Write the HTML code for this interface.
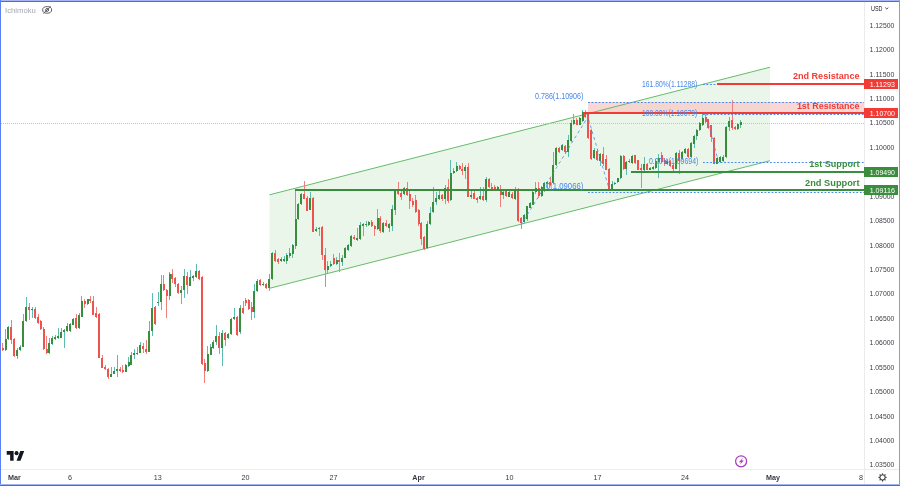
<!DOCTYPE html><html><head><meta charset="utf-8"><title>EURUSD chart</title><style>
html,body{margin:0;padding:0;background:#fff;width:900px;height:487px;overflow:hidden}
svg{display:block;position:absolute;left:0;top:0}
svg{will-change:transform}
text{font-family:"Liberation Sans",sans-serif}
</style></head><body>
<svg width="900" height="487" viewBox="0 0 900 487" shape-rendering="crispEdges">
<rect x="0" y="0" width="900" height="487" fill="#ffffff"/>
<polygon points="269.5,194.8 770.0,67.2 770.0,160.7 269.5,288.3" fill="#ebf6ea" shape-rendering="auto"/>
<rect x="588" y="102" width="276" height="11" fill="#f8c9c6" fill-opacity="0.75"/>
<line x1="269.5" y1="194.8" x2="770.0" y2="67.2" stroke="#66bb6a" stroke-width="1" shape-rendering="auto"/>
<line x1="269.5" y1="288.3" x2="770.0" y2="160.7" stroke="#66bb6a" stroke-width="1" shape-rendering="auto"/>
<line x1="1" y1="123.5" x2="864" y2="123.5" stroke="#b8cabb" stroke-width="1" stroke-dasharray="1,1"/>
<rect x="2" y="343" width="1" height="8" fill="#f07e7b"/>
<rect x="2" y="348" width="2" height="2" fill="#ef5350"/>
<rect x="5" y="329" width="1" height="22" fill="#5dbcb0"/>
<rect x="5" y="339" width="2" height="11" fill="#388e3c"/>
<rect x="8" y="326" width="1" height="14" fill="#5dbcb0"/>
<rect x="7" y="327" width="2" height="12" fill="#388e3c"/>
<rect x="11" y="320" width="1" height="24" fill="#f07e7b"/>
<rect x="10" y="327" width="2" height="13" fill="#ef5350"/>
<rect x="14" y="338" width="1" height="19" fill="#f07e7b"/>
<rect x="13" y="339" width="2" height="17" fill="#ef5350"/>
<rect x="17" y="348" width="1" height="11" fill="#5dbcb0"/>
<rect x="16" y="350" width="2" height="6" fill="#388e3c"/>
<rect x="20" y="345" width="1" height="6" fill="#5dbcb0"/>
<rect x="19" y="347" width="2" height="3" fill="#388e3c"/>
<rect x="23" y="314" width="1" height="33" fill="#5dbcb0"/>
<rect x="22" y="321" width="2" height="26" fill="#388e3c"/>
<rect x="26" y="297" width="1" height="25" fill="#5dbcb0"/>
<rect x="25" y="307" width="2" height="14" fill="#388e3c"/>
<rect x="29" y="303" width="1" height="17" fill="#f07e7b"/>
<rect x="28" y="307" width="2" height="3" fill="#ef5350"/>
<rect x="32" y="307" width="1" height="11" fill="#5dbcb0"/>
<rect x="31" y="309" width="2" height="1" fill="#388e3c"/>
<rect x="35" y="307" width="1" height="12" fill="#f07e7b"/>
<rect x="34" y="309" width="2" height="9" fill="#ef5350"/>
<rect x="38" y="314" width="1" height="10" fill="#f07e7b"/>
<rect x="37" y="317" width="2" height="6" fill="#ef5350"/>
<rect x="40" y="320" width="1" height="10" fill="#f07e7b"/>
<rect x="40" y="321" width="2" height="8" fill="#ef5350"/>
<rect x="43" y="327" width="1" height="23" fill="#f07e7b"/>
<rect x="43" y="329" width="2" height="20" fill="#ef5350"/>
<rect x="46" y="336" width="1" height="18" fill="#f07e7b"/>
<rect x="46" y="349" width="2" height="4" fill="#ef5350"/>
<rect x="49" y="338" width="1" height="16" fill="#5dbcb0"/>
<rect x="48" y="343" width="2" height="10" fill="#388e3c"/>
<rect x="52" y="336" width="1" height="9" fill="#5dbcb0"/>
<rect x="51" y="338" width="2" height="6" fill="#388e3c"/>
<rect x="55" y="335" width="1" height="5" fill="#5dbcb0"/>
<rect x="54" y="337" width="2" height="2" fill="#388e3c"/>
<rect x="58" y="328" width="1" height="11" fill="#5dbcb0"/>
<rect x="57" y="336" width="2" height="2" fill="#388e3c"/>
<rect x="61" y="328" width="1" height="10" fill="#5dbcb0"/>
<rect x="60" y="332" width="2" height="6" fill="#388e3c"/>
<rect x="64" y="329" width="1" height="19" fill="#5dbcb0"/>
<rect x="63" y="330" width="2" height="2" fill="#388e3c"/>
<rect x="67" y="323" width="1" height="9" fill="#5dbcb0"/>
<rect x="66" y="326" width="2" height="5" fill="#388e3c"/>
<rect x="70" y="323" width="1" height="9" fill="#5dbcb0"/>
<rect x="69" y="324" width="2" height="7" fill="#388e3c"/>
<rect x="73" y="318" width="1" height="7" fill="#5dbcb0"/>
<rect x="72" y="319" width="2" height="6" fill="#388e3c"/>
<rect x="76" y="314" width="1" height="15" fill="#f07e7b"/>
<rect x="75" y="318" width="2" height="10" fill="#ef5350"/>
<rect x="79" y="313" width="1" height="16" fill="#5dbcb0"/>
<rect x="78" y="315" width="2" height="13" fill="#388e3c"/>
<rect x="81" y="296" width="1" height="21" fill="#5dbcb0"/>
<rect x="81" y="301" width="2" height="16" fill="#388e3c"/>
<rect x="84" y="299" width="1" height="9" fill="#f07e7b"/>
<rect x="84" y="301" width="2" height="3" fill="#ef5350"/>
<rect x="87" y="299" width="1" height="6" fill="#5dbcb0"/>
<rect x="87" y="299" width="2" height="5" fill="#388e3c"/>
<rect x="90" y="296" width="1" height="7" fill="#f07e7b"/>
<rect x="89" y="299" width="2" height="2" fill="#ef5350"/>
<rect x="93" y="296" width="1" height="19" fill="#f07e7b"/>
<rect x="92" y="301" width="2" height="14" fill="#ef5350"/>
<rect x="96" y="307" width="1" height="11" fill="#f07e7b"/>
<rect x="95" y="313" width="2" height="4" fill="#ef5350"/>
<rect x="99" y="313" width="1" height="45" fill="#f07e7b"/>
<rect x="98" y="314" width="2" height="44" fill="#ef5350"/>
<rect x="102" y="355" width="1" height="13" fill="#f07e7b"/>
<rect x="101" y="358" width="2" height="10" fill="#ef5350"/>
<rect x="105" y="365" width="1" height="5" fill="#f07e7b"/>
<rect x="104" y="367" width="2" height="2" fill="#ef5350"/>
<rect x="108" y="368" width="1" height="11" fill="#f07e7b"/>
<rect x="107" y="369" width="2" height="8" fill="#ef5350"/>
<rect x="111" y="367" width="1" height="10" fill="#5dbcb0"/>
<rect x="110" y="374" width="2" height="3" fill="#388e3c"/>
<rect x="114" y="367" width="1" height="7" fill="#5dbcb0"/>
<rect x="113" y="371" width="2" height="3" fill="#388e3c"/>
<rect x="117" y="355" width="1" height="22" fill="#5dbcb0"/>
<rect x="116" y="369" width="2" height="2" fill="#388e3c"/>
<rect x="120" y="367" width="1" height="5" fill="#f07e7b"/>
<rect x="119" y="369" width="2" height="2" fill="#ef5350"/>
<rect x="122" y="365" width="1" height="8" fill="#f07e7b"/>
<rect x="122" y="370" width="2" height="2" fill="#ef5350"/>
<rect x="125" y="364" width="1" height="8" fill="#5dbcb0"/>
<rect x="125" y="365" width="2" height="7" fill="#388e3c"/>
<rect x="128" y="357" width="1" height="10" fill="#5dbcb0"/>
<rect x="128" y="362" width="2" height="4" fill="#388e3c"/>
<rect x="131" y="352" width="1" height="13" fill="#5dbcb0"/>
<rect x="130" y="355" width="2" height="10" fill="#388e3c"/>
<rect x="134" y="349" width="1" height="10" fill="#5dbcb0"/>
<rect x="133" y="353" width="2" height="2" fill="#388e3c"/>
<rect x="137" y="347" width="1" height="8" fill="#5dbcb0"/>
<rect x="136" y="353" width="2" height="1" fill="#388e3c"/>
<rect x="140" y="342" width="1" height="11" fill="#5dbcb0"/>
<rect x="139" y="345" width="2" height="8" fill="#388e3c"/>
<rect x="143" y="343" width="1" height="10" fill="#f07e7b"/>
<rect x="142" y="346" width="2" height="3" fill="#ef5350"/>
<rect x="146" y="340" width="1" height="14" fill="#f07e7b"/>
<rect x="145" y="349" width="2" height="3" fill="#ef5350"/>
<rect x="149" y="321" width="1" height="31" fill="#5dbcb0"/>
<rect x="148" y="331" width="2" height="21" fill="#388e3c"/>
<rect x="152" y="293" width="1" height="43" fill="#5dbcb0"/>
<rect x="151" y="308" width="2" height="23" fill="#388e3c"/>
<rect x="155" y="306" width="1" height="19" fill="#f07e7b"/>
<rect x="154" y="307" width="2" height="17" fill="#ef5350"/>
<rect x="158" y="292" width="1" height="14" fill="#5dbcb0"/>
<rect x="157" y="302" width="2" height="1" fill="#388e3c"/>
<rect x="161" y="275" width="1" height="35" fill="#5dbcb0"/>
<rect x="160" y="284" width="2" height="18" fill="#388e3c"/>
<rect x="163" y="275" width="1" height="16" fill="#f07e7b"/>
<rect x="163" y="284" width="2" height="6" fill="#ef5350"/>
<rect x="166" y="289" width="1" height="29" fill="#f07e7b"/>
<rect x="166" y="290" width="2" height="6" fill="#ef5350"/>
<rect x="169" y="272" width="1" height="28" fill="#5dbcb0"/>
<rect x="169" y="274" width="2" height="22" fill="#388e3c"/>
<rect x="172" y="269" width="1" height="14" fill="#f07e7b"/>
<rect x="171" y="274" width="2" height="5" fill="#ef5350"/>
<rect x="175" y="277" width="1" height="10" fill="#f07e7b"/>
<rect x="174" y="278" width="2" height="6" fill="#ef5350"/>
<rect x="178" y="283" width="1" height="11" fill="#f07e7b"/>
<rect x="177" y="284" width="2" height="9" fill="#ef5350"/>
<rect x="181" y="286" width="1" height="18" fill="#5dbcb0"/>
<rect x="180" y="290" width="2" height="3" fill="#388e3c"/>
<rect x="184" y="269" width="1" height="29" fill="#5dbcb0"/>
<rect x="183" y="276" width="2" height="14" fill="#388e3c"/>
<rect x="187" y="272" width="1" height="22" fill="#f07e7b"/>
<rect x="186" y="276" width="2" height="9" fill="#ef5350"/>
<rect x="190" y="270" width="1" height="16" fill="#5dbcb0"/>
<rect x="189" y="277" width="2" height="9" fill="#388e3c"/>
<rect x="193" y="275" width="1" height="6" fill="#5dbcb0"/>
<rect x="192" y="276" width="2" height="2" fill="#388e3c"/>
<rect x="196" y="264" width="1" height="14" fill="#5dbcb0"/>
<rect x="195" y="271" width="2" height="6" fill="#388e3c"/>
<rect x="199" y="270" width="1" height="10" fill="#f07e7b"/>
<rect x="198" y="271" width="2" height="8" fill="#ef5350"/>
<rect x="202" y="276" width="1" height="89" fill="#f07e7b"/>
<rect x="201" y="277" width="2" height="87" fill="#ef5350"/>
<rect x="204" y="359" width="1" height="24" fill="#f07e7b"/>
<rect x="204" y="363" width="2" height="8" fill="#ef5350"/>
<rect x="207" y="346" width="1" height="26" fill="#5dbcb0"/>
<rect x="207" y="354" width="2" height="17" fill="#388e3c"/>
<rect x="210" y="344" width="1" height="11" fill="#5dbcb0"/>
<rect x="210" y="347" width="2" height="8" fill="#388e3c"/>
<rect x="213" y="340" width="1" height="9" fill="#5dbcb0"/>
<rect x="212" y="342" width="2" height="6" fill="#388e3c"/>
<rect x="216" y="325" width="1" height="20" fill="#5dbcb0"/>
<rect x="215" y="336" width="2" height="6" fill="#388e3c"/>
<rect x="219" y="332" width="1" height="22" fill="#f07e7b"/>
<rect x="218" y="336" width="2" height="12" fill="#ef5350"/>
<rect x="222" y="330" width="1" height="36" fill="#5dbcb0"/>
<rect x="221" y="333" width="2" height="15" fill="#388e3c"/>
<rect x="225" y="332" width="1" height="14" fill="#f07e7b"/>
<rect x="224" y="333" width="2" height="7" fill="#ef5350"/>
<rect x="228" y="333" width="1" height="6" fill="#5dbcb0"/>
<rect x="227" y="334" width="2" height="4" fill="#388e3c"/>
<rect x="231" y="318" width="1" height="17" fill="#5dbcb0"/>
<rect x="230" y="319" width="2" height="15" fill="#388e3c"/>
<rect x="234" y="308" width="1" height="12" fill="#5dbcb0"/>
<rect x="233" y="317" width="2" height="2" fill="#388e3c"/>
<rect x="237" y="316" width="1" height="20" fill="#f07e7b"/>
<rect x="236" y="317" width="2" height="18" fill="#ef5350"/>
<rect x="240" y="305" width="1" height="29" fill="#5dbcb0"/>
<rect x="239" y="308" width="2" height="24" fill="#388e3c"/>
<rect x="243" y="301" width="1" height="13" fill="#f07e7b"/>
<rect x="242" y="308" width="2" height="5" fill="#ef5350"/>
<rect x="245" y="298" width="1" height="8" fill="#f07e7b"/>
<rect x="245" y="300" width="2" height="3" fill="#ef5350"/>
<rect x="248" y="299" width="1" height="11" fill="#f07e7b"/>
<rect x="248" y="300" width="2" height="9" fill="#ef5350"/>
<rect x="251" y="302" width="1" height="18" fill="#f07e7b"/>
<rect x="251" y="307" width="2" height="5" fill="#ef5350"/>
<rect x="254" y="284" width="1" height="34" fill="#5dbcb0"/>
<rect x="253" y="291" width="2" height="21" fill="#388e3c"/>
<rect x="257" y="279" width="1" height="13" fill="#5dbcb0"/>
<rect x="256" y="281" width="2" height="10" fill="#388e3c"/>
<rect x="260" y="279" width="1" height="7" fill="#f07e7b"/>
<rect x="259" y="280" width="2" height="5" fill="#ef5350"/>
<rect x="263" y="282" width="1" height="4" fill="#5dbcb0"/>
<rect x="262" y="284" width="2" height="1" fill="#388e3c"/>
<rect x="266" y="283" width="1" height="6" fill="#f07e7b"/>
<rect x="265" y="284" width="2" height="4" fill="#ef5350"/>
<rect x="269" y="274" width="1" height="17" fill="#5dbcb0"/>
<rect x="268" y="279" width="2" height="9" fill="#388e3c"/>
<rect x="272" y="252" width="1" height="28" fill="#5dbcb0"/>
<rect x="271" y="253" width="2" height="26" fill="#388e3c"/>
<rect x="275" y="250" width="1" height="12" fill="#f07e7b"/>
<rect x="274" y="253" width="2" height="8" fill="#ef5350"/>
<rect x="278" y="258" width="1" height="6" fill="#f07e7b"/>
<rect x="277" y="259" width="2" height="3" fill="#ef5350"/>
<rect x="281" y="257" width="1" height="5" fill="#5dbcb0"/>
<rect x="280" y="259" width="2" height="2" fill="#388e3c"/>
<rect x="284" y="256" width="1" height="6" fill="#5dbcb0"/>
<rect x="283" y="259" width="2" height="2" fill="#388e3c"/>
<rect x="286" y="253" width="1" height="11" fill="#5dbcb0"/>
<rect x="286" y="255" width="2" height="6" fill="#388e3c"/>
<rect x="289" y="248" width="1" height="10" fill="#5dbcb0"/>
<rect x="289" y="253" width="2" height="3" fill="#388e3c"/>
<rect x="292" y="244" width="1" height="14" fill="#5dbcb0"/>
<rect x="292" y="245" width="2" height="9" fill="#388e3c"/>
<rect x="295" y="190" width="1" height="59" fill="#5dbcb0"/>
<rect x="295" y="219" width="2" height="27" fill="#388e3c"/>
<rect x="298" y="203" width="1" height="17" fill="#5dbcb0"/>
<rect x="297" y="204" width="2" height="15" fill="#388e3c"/>
<rect x="301" y="193" width="1" height="12" fill="#5dbcb0"/>
<rect x="300" y="194" width="2" height="10" fill="#388e3c"/>
<rect x="304" y="181" width="1" height="18" fill="#f07e7b"/>
<rect x="303" y="194" width="2" height="5" fill="#ef5350"/>
<rect x="307" y="196" width="1" height="15" fill="#f07e7b"/>
<rect x="306" y="198" width="2" height="13" fill="#ef5350"/>
<rect x="310" y="192" width="1" height="18" fill="#5dbcb0"/>
<rect x="309" y="198" width="2" height="12" fill="#388e3c"/>
<rect x="313" y="197" width="1" height="35" fill="#f07e7b"/>
<rect x="312" y="198" width="2" height="34" fill="#ef5350"/>
<rect x="316" y="227" width="1" height="5" fill="#5dbcb0"/>
<rect x="315" y="229" width="2" height="2" fill="#388e3c"/>
<rect x="319" y="227" width="1" height="9" fill="#5dbcb0"/>
<rect x="318" y="228" width="2" height="1" fill="#388e3c"/>
<rect x="322" y="226" width="1" height="34" fill="#f07e7b"/>
<rect x="321" y="227" width="2" height="28" fill="#ef5350"/>
<rect x="325" y="248" width="1" height="39" fill="#f07e7b"/>
<rect x="324" y="255" width="2" height="15" fill="#ef5350"/>
<rect x="327" y="261" width="1" height="12" fill="#5dbcb0"/>
<rect x="327" y="266" width="2" height="4" fill="#388e3c"/>
<rect x="330" y="261" width="1" height="6" fill="#5dbcb0"/>
<rect x="330" y="264" width="2" height="2" fill="#388e3c"/>
<rect x="333" y="254" width="1" height="11" fill="#f07e7b"/>
<rect x="333" y="258" width="2" height="6" fill="#ef5350"/>
<rect x="336" y="257" width="1" height="8" fill="#5dbcb0"/>
<rect x="336" y="260" width="2" height="4" fill="#388e3c"/>
<rect x="339" y="253" width="1" height="19" fill="#f07e7b"/>
<rect x="338" y="260" width="2" height="2" fill="#ef5350"/>
<rect x="342" y="255" width="1" height="11" fill="#5dbcb0"/>
<rect x="341" y="258" width="2" height="4" fill="#388e3c"/>
<rect x="345" y="247" width="1" height="11" fill="#5dbcb0"/>
<rect x="344" y="248" width="2" height="10" fill="#388e3c"/>
<rect x="348" y="244" width="1" height="7" fill="#5dbcb0"/>
<rect x="347" y="245" width="2" height="5" fill="#388e3c"/>
<rect x="351" y="235" width="1" height="12" fill="#5dbcb0"/>
<rect x="350" y="236" width="2" height="10" fill="#388e3c"/>
<rect x="354" y="235" width="1" height="5" fill="#f07e7b"/>
<rect x="353" y="237" width="2" height="2" fill="#ef5350"/>
<rect x="357" y="228" width="1" height="13" fill="#5dbcb0"/>
<rect x="356" y="238" width="2" height="2" fill="#388e3c"/>
<rect x="360" y="222" width="1" height="18" fill="#5dbcb0"/>
<rect x="359" y="225" width="2" height="14" fill="#388e3c"/>
<rect x="363" y="223" width="1" height="13" fill="#5dbcb0"/>
<rect x="362" y="224" width="2" height="2" fill="#388e3c"/>
<rect x="366" y="221" width="1" height="6" fill="#5dbcb0"/>
<rect x="365" y="224" width="2" height="1" fill="#388e3c"/>
<rect x="368" y="221" width="1" height="5" fill="#5dbcb0"/>
<rect x="368" y="222" width="2" height="3" fill="#388e3c"/>
<rect x="371" y="220" width="1" height="7" fill="#f07e7b"/>
<rect x="371" y="222" width="2" height="4" fill="#ef5350"/>
<rect x="374" y="225" width="1" height="11" fill="#f07e7b"/>
<rect x="374" y="226" width="2" height="3" fill="#ef5350"/>
<rect x="377" y="209" width="1" height="21" fill="#5dbcb0"/>
<rect x="377" y="218" width="2" height="11" fill="#388e3c"/>
<rect x="380" y="216" width="1" height="17" fill="#f07e7b"/>
<rect x="379" y="218" width="2" height="13" fill="#ef5350"/>
<rect x="383" y="222" width="1" height="11" fill="#5dbcb0"/>
<rect x="382" y="223" width="2" height="9" fill="#388e3c"/>
<rect x="386" y="220" width="1" height="7" fill="#f07e7b"/>
<rect x="385" y="223" width="2" height="3" fill="#ef5350"/>
<rect x="389" y="223" width="1" height="9" fill="#5dbcb0"/>
<rect x="388" y="224" width="2" height="4" fill="#388e3c"/>
<rect x="392" y="205" width="1" height="26" fill="#5dbcb0"/>
<rect x="391" y="209" width="2" height="17" fill="#388e3c"/>
<rect x="395" y="190" width="1" height="25" fill="#5dbcb0"/>
<rect x="394" y="191" width="2" height="19" fill="#388e3c"/>
<rect x="398" y="182" width="1" height="13" fill="#f07e7b"/>
<rect x="397" y="191" width="2" height="3" fill="#ef5350"/>
<rect x="401" y="191" width="1" height="9" fill="#f07e7b"/>
<rect x="400" y="193" width="2" height="4" fill="#ef5350"/>
<rect x="404" y="187" width="1" height="8" fill="#5dbcb0"/>
<rect x="403" y="188" width="2" height="6" fill="#388e3c"/>
<rect x="407" y="182" width="1" height="14" fill="#f07e7b"/>
<rect x="406" y="188" width="2" height="7" fill="#ef5350"/>
<rect x="409" y="190" width="1" height="19" fill="#f07e7b"/>
<rect x="409" y="194" width="2" height="7" fill="#ef5350"/>
<rect x="412" y="198" width="1" height="9" fill="#f07e7b"/>
<rect x="412" y="201" width="2" height="4" fill="#ef5350"/>
<rect x="415" y="195" width="1" height="18" fill="#f07e7b"/>
<rect x="415" y="200" width="2" height="12" fill="#ef5350"/>
<rect x="418" y="209" width="1" height="17" fill="#f07e7b"/>
<rect x="418" y="210" width="2" height="14" fill="#ef5350"/>
<rect x="421" y="222" width="1" height="23" fill="#f07e7b"/>
<rect x="420" y="223" width="2" height="16" fill="#ef5350"/>
<rect x="424" y="236" width="1" height="14" fill="#f07e7b"/>
<rect x="423" y="237" width="2" height="12" fill="#ef5350"/>
<rect x="427" y="221" width="1" height="28" fill="#5dbcb0"/>
<rect x="426" y="224" width="2" height="24" fill="#388e3c"/>
<rect x="430" y="207" width="1" height="18" fill="#5dbcb0"/>
<rect x="429" y="213" width="2" height="11" fill="#388e3c"/>
<rect x="433" y="187" width="1" height="26" fill="#5dbcb0"/>
<rect x="432" y="202" width="2" height="10" fill="#388e3c"/>
<rect x="436" y="192" width="1" height="13" fill="#5dbcb0"/>
<rect x="435" y="198" width="2" height="4" fill="#388e3c"/>
<rect x="439" y="191" width="1" height="9" fill="#5dbcb0"/>
<rect x="438" y="195" width="2" height="4" fill="#388e3c"/>
<rect x="442" y="194" width="1" height="7" fill="#f07e7b"/>
<rect x="441" y="195" width="2" height="4" fill="#ef5350"/>
<rect x="445" y="185" width="1" height="19" fill="#5dbcb0"/>
<rect x="444" y="188" width="2" height="11" fill="#388e3c"/>
<rect x="448" y="179" width="1" height="24" fill="#f07e7b"/>
<rect x="447" y="187" width="2" height="14" fill="#ef5350"/>
<rect x="450" y="160" width="1" height="41" fill="#5dbcb0"/>
<rect x="450" y="173" width="2" height="27" fill="#388e3c"/>
<rect x="453" y="168" width="1" height="6" fill="#5dbcb0"/>
<rect x="453" y="171" width="2" height="2" fill="#388e3c"/>
<rect x="456" y="162" width="1" height="10" fill="#5dbcb0"/>
<rect x="456" y="166" width="2" height="5" fill="#388e3c"/>
<rect x="459" y="165" width="1" height="5" fill="#f07e7b"/>
<rect x="459" y="166" width="2" height="3" fill="#ef5350"/>
<rect x="462" y="163" width="1" height="12" fill="#f07e7b"/>
<rect x="461" y="169" width="2" height="2" fill="#ef5350"/>
<rect x="465" y="165" width="1" height="14" fill="#5dbcb0"/>
<rect x="464" y="167" width="2" height="4" fill="#388e3c"/>
<rect x="468" y="163" width="1" height="34" fill="#f07e7b"/>
<rect x="467" y="167" width="2" height="30" fill="#ef5350"/>
<rect x="471" y="191" width="1" height="8" fill="#5dbcb0"/>
<rect x="470" y="195" width="2" height="2" fill="#388e3c"/>
<rect x="474" y="190" width="1" height="9" fill="#f07e7b"/>
<rect x="473" y="193" width="2" height="6" fill="#ef5350"/>
<rect x="477" y="197" width="1" height="6" fill="#f07e7b"/>
<rect x="476" y="198" width="2" height="2" fill="#ef5350"/>
<rect x="480" y="187" width="1" height="13" fill="#5dbcb0"/>
<rect x="479" y="196" width="2" height="3" fill="#388e3c"/>
<rect x="483" y="187" width="1" height="14" fill="#f07e7b"/>
<rect x="482" y="196" width="2" height="4" fill="#ef5350"/>
<rect x="486" y="177" width="1" height="25" fill="#5dbcb0"/>
<rect x="485" y="179" width="2" height="21" fill="#388e3c"/>
<rect x="489" y="178" width="1" height="10" fill="#f07e7b"/>
<rect x="488" y="179" width="2" height="8" fill="#ef5350"/>
<rect x="491" y="183" width="1" height="6" fill="#f07e7b"/>
<rect x="491" y="187" width="2" height="2" fill="#ef5350"/>
<rect x="494" y="185" width="1" height="5" fill="#f07e7b"/>
<rect x="494" y="187" width="2" height="2" fill="#ef5350"/>
<rect x="497" y="186" width="1" height="4" fill="#5dbcb0"/>
<rect x="497" y="187" width="2" height="2" fill="#388e3c"/>
<rect x="500" y="185" width="1" height="22" fill="#f07e7b"/>
<rect x="500" y="189" width="2" height="6" fill="#ef5350"/>
<rect x="503" y="189" width="1" height="10" fill="#5dbcb0"/>
<rect x="502" y="192" width="2" height="3" fill="#388e3c"/>
<rect x="506" y="189" width="1" height="8" fill="#f07e7b"/>
<rect x="505" y="191" width="2" height="5" fill="#ef5350"/>
<rect x="509" y="189" width="1" height="8" fill="#5dbcb0"/>
<rect x="508" y="192" width="2" height="5" fill="#388e3c"/>
<rect x="512" y="192" width="1" height="7" fill="#f07e7b"/>
<rect x="511" y="194" width="2" height="4" fill="#ef5350"/>
<rect x="515" y="187" width="1" height="13" fill="#5dbcb0"/>
<rect x="514" y="190" width="2" height="9" fill="#388e3c"/>
<rect x="518" y="188" width="1" height="34" fill="#f07e7b"/>
<rect x="517" y="189" width="2" height="32" fill="#ef5350"/>
<rect x="521" y="217" width="1" height="12" fill="#f07e7b"/>
<rect x="520" y="218" width="2" height="5" fill="#ef5350"/>
<rect x="524" y="214" width="1" height="9" fill="#5dbcb0"/>
<rect x="523" y="215" width="2" height="7" fill="#388e3c"/>
<rect x="527" y="206" width="1" height="15" fill="#5dbcb0"/>
<rect x="526" y="206" width="2" height="13" fill="#388e3c"/>
<rect x="530" y="202" width="1" height="6" fill="#5dbcb0"/>
<rect x="529" y="203" width="2" height="5" fill="#388e3c"/>
<rect x="532" y="191" width="1" height="14" fill="#5dbcb0"/>
<rect x="532" y="192" width="2" height="13" fill="#388e3c"/>
<rect x="535" y="182" width="1" height="12" fill="#5dbcb0"/>
<rect x="535" y="188" width="2" height="4" fill="#388e3c"/>
<rect x="538" y="182" width="1" height="16" fill="#f07e7b"/>
<rect x="538" y="188" width="2" height="8" fill="#ef5350"/>
<rect x="541" y="186" width="1" height="11" fill="#5dbcb0"/>
<rect x="541" y="187" width="2" height="9" fill="#388e3c"/>
<rect x="544" y="182" width="1" height="10" fill="#5dbcb0"/>
<rect x="543" y="183" width="2" height="8" fill="#388e3c"/>
<rect x="547" y="181" width="1" height="7" fill="#5dbcb0"/>
<rect x="546" y="182" width="2" height="2" fill="#388e3c"/>
<rect x="550" y="178" width="1" height="8" fill="#f07e7b"/>
<rect x="549" y="182" width="2" height="3" fill="#ef5350"/>
<rect x="553" y="152" width="1" height="32" fill="#5dbcb0"/>
<rect x="552" y="165" width="2" height="18" fill="#388e3c"/>
<rect x="556" y="147" width="1" height="19" fill="#5dbcb0"/>
<rect x="555" y="148" width="2" height="17" fill="#388e3c"/>
<rect x="559" y="147" width="1" height="6" fill="#f07e7b"/>
<rect x="558" y="148" width="2" height="4" fill="#ef5350"/>
<rect x="562" y="144" width="1" height="7" fill="#5dbcb0"/>
<rect x="561" y="145" width="2" height="5" fill="#388e3c"/>
<rect x="565" y="145" width="1" height="9" fill="#f07e7b"/>
<rect x="564" y="146" width="2" height="6" fill="#ef5350"/>
<rect x="568" y="135" width="1" height="22" fill="#5dbcb0"/>
<rect x="567" y="140" width="2" height="12" fill="#388e3c"/>
<rect x="571" y="120" width="1" height="22" fill="#5dbcb0"/>
<rect x="570" y="123" width="2" height="18" fill="#388e3c"/>
<rect x="573" y="114" width="1" height="11" fill="#5dbcb0"/>
<rect x="573" y="120" width="2" height="4" fill="#388e3c"/>
<rect x="576" y="118" width="1" height="7" fill="#f07e7b"/>
<rect x="576" y="120" width="2" height="5" fill="#ef5350"/>
<rect x="579" y="117" width="1" height="8" fill="#5dbcb0"/>
<rect x="579" y="118" width="2" height="7" fill="#388e3c"/>
<rect x="582" y="110" width="1" height="12" fill="#5dbcb0"/>
<rect x="582" y="112" width="2" height="9" fill="#388e3c"/>
<rect x="585" y="110" width="1" height="8" fill="#f07e7b"/>
<rect x="584" y="112" width="2" height="5" fill="#ef5350"/>
<rect x="588" y="112" width="1" height="27" fill="#f07e7b"/>
<rect x="587" y="114" width="2" height="24" fill="#ef5350"/>
<rect x="591" y="129" width="1" height="31" fill="#f07e7b"/>
<rect x="590" y="130" width="2" height="29" fill="#ef5350"/>
<rect x="594" y="148" width="1" height="11" fill="#5dbcb0"/>
<rect x="593" y="150" width="2" height="8" fill="#388e3c"/>
<rect x="597" y="149" width="1" height="12" fill="#f07e7b"/>
<rect x="596" y="151" width="2" height="9" fill="#ef5350"/>
<rect x="600" y="153" width="1" height="13" fill="#5dbcb0"/>
<rect x="599" y="154" width="2" height="7" fill="#388e3c"/>
<rect x="603" y="147" width="1" height="19" fill="#f07e7b"/>
<rect x="602" y="154" width="2" height="10" fill="#ef5350"/>
<rect x="606" y="155" width="1" height="15" fill="#f07e7b"/>
<rect x="605" y="159" width="2" height="11" fill="#ef5350"/>
<rect x="609" y="168" width="1" height="23" fill="#f07e7b"/>
<rect x="608" y="169" width="2" height="22" fill="#ef5350"/>
<rect x="612" y="181" width="1" height="10" fill="#5dbcb0"/>
<rect x="611" y="184" width="2" height="6" fill="#388e3c"/>
<rect x="614" y="182" width="1" height="3" fill="#5dbcb0"/>
<rect x="614" y="183" width="2" height="1" fill="#388e3c"/>
<rect x="617" y="178" width="1" height="5" fill="#5dbcb0"/>
<rect x="617" y="178" width="2" height="4" fill="#388e3c"/>
<rect x="620" y="155" width="1" height="24" fill="#5dbcb0"/>
<rect x="620" y="156" width="2" height="22" fill="#388e3c"/>
<rect x="623" y="155" width="1" height="15" fill="#f07e7b"/>
<rect x="623" y="156" width="2" height="13" fill="#ef5350"/>
<rect x="626" y="161" width="1" height="14" fill="#5dbcb0"/>
<rect x="625" y="162" width="2" height="7" fill="#388e3c"/>
<rect x="629" y="159" width="1" height="4" fill="#5dbcb0"/>
<rect x="628" y="161" width="2" height="1" fill="#388e3c"/>
<rect x="632" y="155" width="1" height="9" fill="#5dbcb0"/>
<rect x="631" y="156" width="2" height="7" fill="#388e3c"/>
<rect x="635" y="155" width="1" height="9" fill="#f07e7b"/>
<rect x="634" y="155" width="2" height="8" fill="#ef5350"/>
<rect x="638" y="160" width="1" height="10" fill="#f07e7b"/>
<rect x="637" y="160" width="2" height="10" fill="#ef5350"/>
<rect x="641" y="164" width="1" height="24" fill="#f07e7b"/>
<rect x="640" y="168" width="2" height="2" fill="#ef5350"/>
<rect x="644" y="157" width="1" height="14" fill="#5dbcb0"/>
<rect x="643" y="164" width="2" height="6" fill="#388e3c"/>
<rect x="647" y="163" width="1" height="7" fill="#f07e7b"/>
<rect x="646" y="164" width="2" height="6" fill="#ef5350"/>
<rect x="650" y="167" width="1" height="3" fill="#5dbcb0"/>
<rect x="649" y="168" width="2" height="2" fill="#388e3c"/>
<rect x="653" y="166" width="1" height="4" fill="#5dbcb0"/>
<rect x="652" y="167" width="2" height="2" fill="#388e3c"/>
<rect x="655" y="159" width="1" height="10" fill="#5dbcb0"/>
<rect x="655" y="161" width="2" height="7" fill="#388e3c"/>
<rect x="658" y="154" width="1" height="24" fill="#5dbcb0"/>
<rect x="658" y="158" width="2" height="4" fill="#388e3c"/>
<rect x="661" y="152" width="1" height="11" fill="#f07e7b"/>
<rect x="661" y="155" width="2" height="7" fill="#ef5350"/>
<rect x="664" y="158" width="1" height="8" fill="#f07e7b"/>
<rect x="664" y="160" width="2" height="4" fill="#ef5350"/>
<rect x="667" y="159" width="1" height="6" fill="#5dbcb0"/>
<rect x="666" y="161" width="2" height="3" fill="#388e3c"/>
<rect x="670" y="160" width="1" height="7" fill="#f07e7b"/>
<rect x="669" y="161" width="2" height="5" fill="#ef5350"/>
<rect x="673" y="163" width="1" height="8" fill="#f07e7b"/>
<rect x="672" y="165" width="2" height="4" fill="#ef5350"/>
<rect x="676" y="152" width="1" height="17" fill="#5dbcb0"/>
<rect x="675" y="153" width="2" height="16" fill="#388e3c"/>
<rect x="679" y="150" width="1" height="24" fill="#f07e7b"/>
<rect x="678" y="153" width="2" height="8" fill="#ef5350"/>
<rect x="682" y="151" width="1" height="9" fill="#5dbcb0"/>
<rect x="681" y="152" width="2" height="7" fill="#388e3c"/>
<rect x="685" y="148" width="1" height="6" fill="#5dbcb0"/>
<rect x="684" y="149" width="2" height="4" fill="#388e3c"/>
<rect x="688" y="148" width="1" height="10" fill="#f07e7b"/>
<rect x="687" y="149" width="2" height="8" fill="#ef5350"/>
<rect x="691" y="142" width="1" height="16" fill="#5dbcb0"/>
<rect x="690" y="143" width="2" height="14" fill="#388e3c"/>
<rect x="694" y="135" width="1" height="13" fill="#5dbcb0"/>
<rect x="693" y="136" width="2" height="8" fill="#388e3c"/>
<rect x="696" y="129" width="1" height="11" fill="#5dbcb0"/>
<rect x="696" y="130" width="2" height="6" fill="#388e3c"/>
<rect x="699" y="122" width="1" height="9" fill="#5dbcb0"/>
<rect x="699" y="123" width="2" height="7" fill="#388e3c"/>
<rect x="702" y="114" width="1" height="12" fill="#5dbcb0"/>
<rect x="702" y="118" width="2" height="7" fill="#388e3c"/>
<rect x="705" y="115" width="1" height="8" fill="#f07e7b"/>
<rect x="705" y="117" width="2" height="5" fill="#ef5350"/>
<rect x="708" y="119" width="1" height="10" fill="#f07e7b"/>
<rect x="707" y="119" width="2" height="9" fill="#ef5350"/>
<rect x="711" y="125" width="1" height="17" fill="#f07e7b"/>
<rect x="710" y="125" width="2" height="12" fill="#ef5350"/>
<rect x="714" y="137" width="1" height="27" fill="#f07e7b"/>
<rect x="713" y="138" width="2" height="26" fill="#ef5350"/>
<rect x="717" y="157" width="1" height="7" fill="#5dbcb0"/>
<rect x="716" y="158" width="2" height="6" fill="#388e3c"/>
<rect x="720" y="156" width="1" height="7" fill="#5dbcb0"/>
<rect x="719" y="157" width="2" height="5" fill="#388e3c"/>
<rect x="723" y="155" width="1" height="7" fill="#5dbcb0"/>
<rect x="722" y="157" width="2" height="4" fill="#388e3c"/>
<rect x="726" y="126" width="1" height="32" fill="#5dbcb0"/>
<rect x="725" y="127" width="2" height="30" fill="#388e3c"/>
<rect x="729" y="117" width="1" height="14" fill="#5dbcb0"/>
<rect x="728" y="121" width="2" height="6" fill="#388e3c"/>
<rect x="732" y="100" width="1" height="30" fill="#f07e7b"/>
<rect x="731" y="120" width="2" height="8" fill="#ef5350"/>
<rect x="735" y="126" width="1" height="4" fill="#f07e7b"/>
<rect x="734" y="127" width="2" height="2" fill="#ef5350"/>
<rect x="737" y="123" width="1" height="7" fill="#5dbcb0"/>
<rect x="737" y="124" width="2" height="5" fill="#388e3c"/>
<rect x="740" y="120" width="1" height="8" fill="#5dbcb0"/>
<rect x="740" y="122" width="2" height="3" fill="#388e3c"/>
<line x1="588" y1="102.5" x2="864" y2="102.5" stroke="#4788ec" stroke-width="1" stroke-dasharray="1.8,1.73" shape-rendering="auto"/>
<line x1="588" y1="192.5" x2="864" y2="192.5" stroke="#4788ec" stroke-width="1" stroke-dasharray="1.8,1.73" shape-rendering="auto"/>
<line x1="703" y1="84.5" x2="716" y2="84.5" stroke="#4788ec" stroke-width="1" stroke-dasharray="1.8,1.73" shape-rendering="auto"/>
<line x1="703" y1="114.5" x2="864" y2="114.5" stroke="#4788ec" stroke-width="1" stroke-dasharray="1.8,1.73" shape-rendering="auto"/>
<line x1="703" y1="162.5" x2="864" y2="162.5" stroke="#4788ec" stroke-width="1" stroke-dasharray="1.8,1.73" shape-rendering="auto"/>
<line x1="521" y1="225" x2="586" y2="120" stroke="#4788ec" stroke-width="1" stroke-dasharray="3,3" shape-rendering="auto" stroke-opacity="0.8"/>
<line x1="587" y1="114" x2="609.5" y2="190" stroke="#4788ec" stroke-width="1" stroke-dasharray="3,3" shape-rendering="auto" stroke-opacity="0.8"/>
<line x1="705.5" y1="113" x2="718" y2="160" stroke="#4788ec" stroke-width="1" stroke-dasharray="3,3" shape-rendering="auto" stroke-opacity="0.8"/>
<rect x="717" y="83" width="147" height="2" fill="#f23b35"/>
<rect x="583" y="112" width="281" height="2" fill="#f23b35"/>
<rect x="631" y="171" width="233" height="2" fill="#388e3c"/>
<rect x="295" y="189" width="569" height="2" fill="#388e3c"/>
<text x="535" y="98.9" font-size="8.4" fill="#4788ec" textLength="48.4" lengthAdjust="spacingAndGlyphs">0.786(1.10906)</text>
<text x="642" y="86.8" font-size="8.4" fill="#4788ec" textLength="55.3" lengthAdjust="spacingAndGlyphs">161.80%(1.11288)</text>
<text x="642" y="116.3" font-size="8.4" fill="#4788ec" textLength="55.3" lengthAdjust="spacingAndGlyphs">100.00%(1.10679)</text>
<text x="649" y="164" font-size="8.4" fill="#4788ec" textLength="49.3" lengthAdjust="spacingAndGlyphs">0.00%(1.09694)</text>
<text x="546" y="188.5" font-size="8.4" fill="#4788ec" textLength="37.3" lengthAdjust="spacingAndGlyphs">0(1.09066)</text>
<text x="792.9" y="79" font-size="9" font-weight="bold" fill="#f23b35" textLength="66.6" lengthAdjust="spacingAndGlyphs">2nd Resistance</text>
<text x="796.9" y="108.5" font-size="9" font-weight="bold" fill="#f23b35" textLength="62.6" lengthAdjust="spacingAndGlyphs">1st Resistance</text>
<text x="809.2" y="167" font-size="9" font-weight="bold" fill="#388e3c" textLength="50.3" lengthAdjust="spacingAndGlyphs">1st Support</text>
<text x="805.1" y="185.5" font-size="9" font-weight="bold" fill="#388e3c" textLength="54.4" lengthAdjust="spacingAndGlyphs">2nd Support</text>
<rect x="864" y="2" width="1" height="482" fill="#ebebeb"/>
<rect x="1" y="469" width="898" height="1" fill="#ededed"/>
<text x="869.6" y="27.7" font-size="7.4" fill="#3a3d45" textLength="24.7" lengthAdjust="spacingAndGlyphs">1.12500</text>
<text x="869.6" y="52.1" font-size="7.4" fill="#3a3d45" textLength="24.7" lengthAdjust="spacingAndGlyphs">1.12000</text>
<text x="869.6" y="76.6" font-size="7.4" fill="#3a3d45" textLength="24.7" lengthAdjust="spacingAndGlyphs">1.11500</text>
<text x="869.6" y="101.0" font-size="7.4" fill="#3a3d45" textLength="24.7" lengthAdjust="spacingAndGlyphs">1.11000</text>
<text x="869.6" y="125.4" font-size="7.4" fill="#3a3d45" textLength="24.7" lengthAdjust="spacingAndGlyphs">1.10500</text>
<text x="869.6" y="149.8" font-size="7.4" fill="#3a3d45" textLength="24.7" lengthAdjust="spacingAndGlyphs">1.10000</text>
<text x="869.6" y="174.3" font-size="7.4" fill="#3a3d45" textLength="24.7" lengthAdjust="spacingAndGlyphs">1.09500</text>
<text x="869.6" y="198.7" font-size="7.4" fill="#3a3d45" textLength="24.7" lengthAdjust="spacingAndGlyphs">1.09000</text>
<text x="869.6" y="223.1" font-size="7.4" fill="#3a3d45" textLength="24.7" lengthAdjust="spacingAndGlyphs">1.08500</text>
<text x="869.6" y="247.5" font-size="7.4" fill="#3a3d45" textLength="24.7" lengthAdjust="spacingAndGlyphs">1.08000</text>
<text x="869.6" y="272.0" font-size="7.4" fill="#3a3d45" textLength="24.7" lengthAdjust="spacingAndGlyphs">1.07500</text>
<text x="869.6" y="296.4" font-size="7.4" fill="#3a3d45" textLength="24.7" lengthAdjust="spacingAndGlyphs">1.07000</text>
<text x="869.6" y="320.8" font-size="7.4" fill="#3a3d45" textLength="24.7" lengthAdjust="spacingAndGlyphs">1.06500</text>
<text x="869.6" y="345.2" font-size="7.4" fill="#3a3d45" textLength="24.7" lengthAdjust="spacingAndGlyphs">1.06000</text>
<text x="869.6" y="369.7" font-size="7.4" fill="#3a3d45" textLength="24.7" lengthAdjust="spacingAndGlyphs">1.05500</text>
<text x="869.6" y="394.1" font-size="7.4" fill="#3a3d45" textLength="24.7" lengthAdjust="spacingAndGlyphs">1.05000</text>
<text x="869.6" y="418.5" font-size="7.4" fill="#3a3d45" textLength="24.7" lengthAdjust="spacingAndGlyphs">1.04500</text>
<text x="869.6" y="442.9" font-size="7.4" fill="#3a3d45" textLength="24.7" lengthAdjust="spacingAndGlyphs">1.04000</text>
<text x="869.6" y="467.4" font-size="7.4" fill="#3a3d45" textLength="24.7" lengthAdjust="spacingAndGlyphs">1.03500</text>
<rect x="864" y="79" width="34" height="10" fill="#f23b35"/>
<text x="869.7" y="86.7" font-size="7.4" fill="#ffffff" textLength="25.2" lengthAdjust="spacingAndGlyphs">1.11293</text>
<rect x="864" y="108" width="34" height="10" fill="#f23b35"/>
<text x="869.7" y="115.7" font-size="7.4" fill="#ffffff" textLength="25.2" lengthAdjust="spacingAndGlyphs">1.10700</text>
<rect x="864" y="167" width="34" height="10" fill="#388e3c"/>
<text x="869.7" y="174.7" font-size="7.4" fill="#ffffff" textLength="25.2" lengthAdjust="spacingAndGlyphs">1.09490</text>
<rect x="864" y="185" width="34" height="10" fill="#388e3c"/>
<text x="869.7" y="192.7" font-size="7.4" fill="#ffffff" textLength="25.2" lengthAdjust="spacingAndGlyphs">1.09116</text>
<text x="871" y="11" font-size="8" fill="#131722" textLength="11.4" lengthAdjust="spacingAndGlyphs">USD</text>
<path d="M885.3 7.6 L886.8 9 L888.3 7.6" fill="none" stroke="#131722" stroke-width="0.8" shape-rendering="auto"/>
<text x="14.3" y="479.8" font-size="7.2" fill="#363a45" text-anchor="middle" font-weight="bold">Mar</text>
<text x="70" y="479.8" font-size="7.2" fill="#363a45" text-anchor="middle">6</text>
<text x="157.8" y="479.8" font-size="7.2" fill="#363a45" text-anchor="middle">13</text>
<text x="245.6" y="479.8" font-size="7.2" fill="#363a45" text-anchor="middle">20</text>
<text x="333.5" y="479.8" font-size="7.2" fill="#363a45" text-anchor="middle">27</text>
<text x="418.5" y="479.8" font-size="7.2" fill="#363a45" text-anchor="middle" font-weight="bold">Apr</text>
<text x="509.4" y="479.8" font-size="7.2" fill="#363a45" text-anchor="middle">10</text>
<text x="597.5" y="479.8" font-size="7.2" fill="#363a45" text-anchor="middle">17</text>
<text x="685" y="479.8" font-size="7.2" fill="#363a45" text-anchor="middle">24</text>
<text x="773" y="479.8" font-size="7.2" fill="#363a45" text-anchor="middle" font-weight="bold">May</text>
<text x="861" y="479.8" font-size="7.2" fill="#363a45" text-anchor="middle">8</text>
<g transform="translate(882.55,477.4)" shape-rendering="auto"><circle r="2.5" fill="none" stroke="#3a3a3a" stroke-width="0.9"/>
<polygon points="2.69,-1.09 4.50,0.00 2.69,1.09" fill="#3a3a3a"/>
<polygon points="2.67,1.13 3.18,3.18 1.13,2.67" fill="#3a3a3a"/>
<polygon points="1.09,2.69 0.00,4.50 -1.09,2.69" fill="#3a3a3a"/>
<polygon points="-1.13,2.67 -3.18,3.18 -2.67,1.13" fill="#3a3a3a"/>
<polygon points="-2.69,1.09 -4.50,0.00 -2.69,-1.09" fill="#3a3a3a"/>
<polygon points="-2.67,-1.13 -3.18,-3.18 -1.13,-2.67" fill="#3a3a3a"/>
<polygon points="-1.09,-2.69 -0.00,-4.50 1.09,-2.69" fill="#3a3a3a"/>
<polygon points="1.13,-2.67 3.18,-3.18 2.67,-1.13" fill="#3a3a3a"/>
</g>
<text x="5.1" y="13.3" font-size="8" fill="#a6a9b1" textLength="30.8" lengthAdjust="spacingAndGlyphs">Ichimoku</text>
<g shape-rendering="auto" fill="none" stroke="#4d4f55" stroke-width="0.9"><ellipse cx="47.15" cy="9.9" rx="4.5" ry="3.3"/><circle cx="47.1" cy="9.95" r="1.5"/><line x1="43.4" y1="13.4" x2="50.8" y2="6.4"/></g>
<g transform="translate(6.7,449.0) scale(0.493,0.53)" fill="#131722" shape-rendering="auto"><path d="M14 22H7V11H0V4h14v18zM28 22h-8l7.5-18h8L28 22z"/><circle cx="20" cy="8" r="4"/></g>
<g shape-rendering="auto"><circle cx="741.1" cy="461.3" r="5.5" fill="none" stroke="#a63fbf" stroke-width="1.25"/><path d="M743.2 457.6 L738.9 462.3 L741.2 462.3 L739.6 465.1 L743.9 460.4 L741.6 460.4 Z" fill="#a63fbf"/></g>
<rect x="0" y="0" width="900" height="1" fill="#a8b6f5"/>
<rect x="0" y="1" width="900" height="1" fill="#3f6ef3"/>
<rect x="0" y="0" width="1" height="486" fill="#5b80f5"/>
<rect x="899" y="0" width="1" height="486" fill="#7a9cfa"/>
<rect x="0" y="484" width="900" height="1" fill="#9fb3f7"/>
<rect x="0" y="485" width="900" height="1" fill="#3b6af3"/>
</svg></body></html>
